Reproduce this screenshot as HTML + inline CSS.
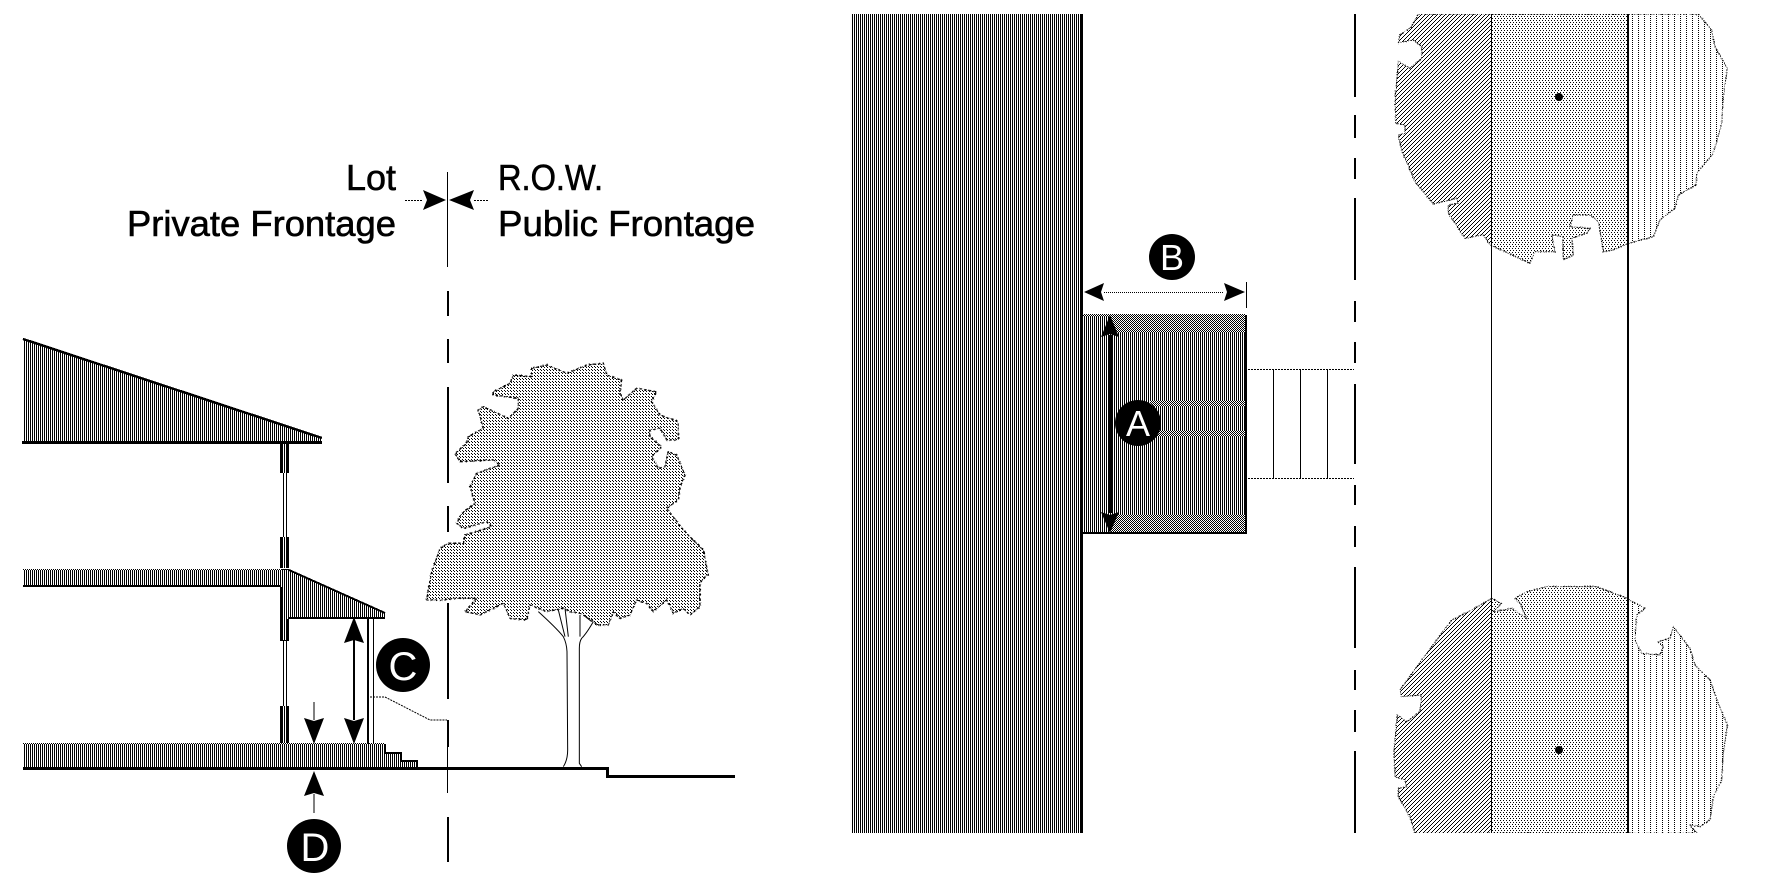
<!DOCTYPE html>
<html><head><meta charset="utf-8"><style>
html,body{margin:0;padding:0;background:#fff;width:1786px;height:883px;overflow:hidden}
svg{display:block}
text{font-family:"Liberation Sans",sans-serif}
</style></head><body>
<svg width="1786" height="883" viewBox="0 0 1786 883" xmlns="http://www.w3.org/2000/svg">
<defs>
<pattern id="h" width="2" height="2" patternUnits="userSpaceOnUse"><rect width="1" height="2" fill="#000"/></pattern>
<pattern id="ck" width="2" height="2" patternUnits="userSpaceOnUse"><rect width="2" height="2" fill="#fff"/><rect width="1" height="1" fill="#000"/><rect x="1" y="1" width="1" height="1" fill="#000"/></pattern>
<pattern id="td" width="3" height="3" patternUnits="userSpaceOnUse"><rect width="1" height="1" fill="#000"/><rect x="1" y="1" width="1" height="1" fill="#000"/></pattern>
<pattern id="dg" width="4" height="4" patternUnits="userSpaceOnUse"><rect x="0" y="3" width="1" height="1" fill="#000"/><rect x="1" y="2" width="1" height="1" fill="#000"/><rect x="2" y="1" width="1" height="1" fill="#000"/><rect x="3" y="0" width="1" height="1" fill="#000"/></pattern>
<pattern id="md" width="3" height="4" patternUnits="userSpaceOnUse"><rect width="1" height="1" fill="#000"/><rect x="1" y="2" width="1" height="1" fill="#000"/></pattern>
<pattern id="vd" width="6" height="2" patternUnits="userSpaceOnUse"><rect width="1" height="1" fill="#000"/></pattern>
<filter id="bw" x="-5%" y="-5%" width="110%" height="110%"><feColorMatrix type="saturate" values="0"/><feComponentTransfer><feFuncR type="discrete" tableValues="0 1"/><feFuncG type="discrete" tableValues="0 1"/><feFuncB type="discrete" tableValues="0 1"/></feComponentTransfer></filter>
<filter id="rough" x="-5%" y="-5%" width="110%" height="110%"><feTurbulence type="fractalNoise" baseFrequency="0.25" numOctaves="3" seed="4"/><feDisplacementMap in="SourceGraphic" scale="7" xChannelSelector="R" yChannelSelector="G"/></filter>
<polygon id="crown" points="335,55 380,45 440,70 500,45 550,40 560,75 605,90 600,130 610,150 650,115 710,125 695,155 720,195 775,215 775,270 740,270 720,235 690,240 690,260 725,290 695,320 715,355 735,350 745,305 770,315 795,375 780,410 775,450 740,475 790,540 850,600 865,675 860,675 840,700 840,770 810,795 790,775 760,790 740,750 700,785 680,760 650,750 630,795 600,805 580,785 565,825 530,825 515,810 480,790 450,785 430,775 380,785 330,765 320,810 270,805 250,760 180,795 135,785 170,745 110,745 65,750 20,750 30,690 35,665 60,595 85,580 130,580 135,555 215,530 200,515 130,535 110,520 125,490 165,460 150,410 170,370 240,345 220,330 120,335 105,310 140,280 145,260 190,235 175,180 190,170 265,205 295,175 295,145 220,135 220,125 270,100 280,75 335,80"/>
<polygon id="rtop" points="85,42 925,42 965,90 975,140 1012,205 1000,290 995,370 970,460 920,520 918,555 865,585 855,625 810,660 790,710 715,730 670,750 640,755 625,665 600,645 550,645 540,680 600,685 590,700 545,715 550,765 520,780 518,710 485,705 495,755 435,755 420,790 345,755 300,735 280,705 225,715 175,640 175,615 205,610 200,595 130,612 75,545 35,450 25,405 45,400 45,375 18,370 15,300 25,185 60,205 95,175 95,140 70,120 25,128 30,105 65,80"/>
<polygon id="rbot" points="305,55 335,70 310,95 365,85 410,115 390,70 375,55 410,35 470,20 620,20 700,50 765,85 740,105 735,180 755,220 810,225 820,200 805,185 840,175 850,140 900,205 915,255 960,300 985,370 1012,435 1000,520 995,600 970,650 960,720 930,740 900,735 920,760 75,760 60,710 25,650 25,625 50,620 45,600 15,590 12,515 22,405 50,425 90,395 95,345 35,350 30,330 95,240 185,120 245,90"/>
<clipPath id="cCrown"><use href="#crown" transform="translate(420,350) scale(.33333)"/></clipPath>
<clipPath id="cTop"><use href="#rtop" transform="translate(1390,0) scale(.33333)"/></clipPath>
<clipPath id="cBot"><use href="#rbot" transform="translate(1390,580) scale(.33333)"/></clipPath>
</defs>
<rect width="1786" height="883" fill="#fff"/>

<!-- left dashed line -->
<g fill="#000" shape-rendering="crispEdges">
<rect x="447" y="172" width="1" height="95"/>
<rect x="447" y="291" width="2" height="25"/><rect x="447" y="339" width="2" height="24"/>
<rect x="447" y="387" width="2" height="96"/><rect x="447" y="506" width="2" height="26"/>
<rect x="447" y="603" width="2" height="96"/><rect x="447" y="720" width="2" height="27"/>
<rect x="447" y="747" width="1" height="46"/><rect x="447" y="817" width="2" height="45"/>
</g>

<!-- labels -->
<g filter="url(#bw)" font-size="36" fill="#000" stroke="#000" stroke-width=".6">
<text x="346" y="190" textLength="50" lengthAdjust="spacingAndGlyphs">Lot</text>
<text x="127" y="236" textLength="269" lengthAdjust="spacingAndGlyphs">Private Frontage</text>
<text x="498" y="190" textLength="105" lengthAdjust="spacingAndGlyphs">R.O.W.</text>
<text x="498" y="236" textLength="257" lengthAdjust="spacingAndGlyphs">Public Frontage</text>
</g>
<g shape-rendering="crispEdges" stroke="#000" stroke-dasharray="2 1" fill="none">
<path d="M405 200.5H423M474 200.5H489"/>
</g>
<path d="M423 190L446 200L423 210L427 200ZM474 190L449 200L474 210L470 200Z" fill="#000"/>

<!-- house -->
<g shape-rendering="crispEdges">
<polygon points="23,339 322,438 322,442 23,442" fill="url(#h)"/>
<path d="M23 339L322 438" stroke="#000" stroke-width="2.5" fill="none"/>
<rect x="22" y="441" width="300" height="3" fill="#000"/>
<rect x="280" y="444" width="9" height="29" fill="url(#h)"/><rect x="280" y="444" width="2" height="29"/><rect x="287" y="444" width="2" height="29"/>
<rect x="283" y="473" width="1" height="64"/><rect x="286" y="473" width="1" height="64"/>
<rect x="280" y="537" width="9" height="31" fill="url(#h)"/><rect x="280" y="537" width="2" height="31"/><rect x="287" y="537" width="2" height="31"/>
<rect x="23" y="569" width="266" height="18" fill="url(#h)"/>
<rect x="23" y="569" width="266" height="2" fill="url(#ck)"/><rect x="23" y="585" width="258" height="2" fill="#000"/>
<polygon points="281,569 289,569 385,613 385,618 289,618 289,640 281,640" fill="url(#h)"/>
<path d="M289 570L385 613" stroke="#000" stroke-width="2" fill="none"/>
<rect x="289" y="617" width="96" height="2" fill="#000"/>
<rect x="280" y="587" width="2" height="53"/><rect x="287" y="619" width="2" height="21"/>
<rect x="280" y="640" width="9" height="1"/>
<rect x="283" y="641" width="1" height="65"/><rect x="286" y="641" width="1" height="65"/>
<rect x="280" y="706" width="9" height="38" fill="url(#h)"/><rect x="280" y="706" width="2" height="38"/><rect x="287" y="706" width="2" height="38"/>
<polygon points="23,744 385,744 385,752 401,752 401,760 418,760 418,769 23,769" fill="url(#h)"/>
<rect x="23" y="743" width="362" height="2" fill="url(#ck)"/>
<path d="M385 744V753H401V761H417V769" fill="none" stroke="#000" stroke-width="2"/>
<rect x="23" y="767" width="585" height="3" fill="#000"/>
<rect x="606" y="767" width="3" height="11" fill="#000"/>
<rect x="606" y="775" width="129" height="3" fill="#000"/>
<rect x="367" y="619" width="2" height="125"/><rect x="373" y="619" width="1" height="125"/>
</g>
<path d="M370 697H385L430 720H447" fill="none" stroke="#000" stroke-width="1" stroke-dasharray="2 1"/>

<!-- C / D arrows -->
<rect x="353" y="640" width="2" height="80" fill="#000"/>
<path d="M354 617L344 643L354 640L364 643ZM354 744L344 718L354 721L364 718Z" fill="#000"/>
<path d="M314 702V720M314 794V813" stroke="#000" stroke-width="1"/>
<path d="M314 744L304 718L314 721L324 718ZM314 771L304 796L314 793L324 796Z" fill="#000"/>
<circle cx="403" cy="665" r="27" fill="#000"/>
<circle cx="314" cy="846" r="27" fill="#000"/>
<text x="403" y="680" font-size="40" fill="#fff" text-anchor="middle">C</text>
<text x="315" y="861" font-size="40" fill="#fff" text-anchor="middle">D</text>

<!-- tree elevation -->
<rect x="420" y="350" width="320" height="300" fill="url(#td)" clip-path="url(#cCrown)" shape-rendering="crispEdges"/>
<use href="#crown" transform="translate(420,350) scale(.33333)" fill="none" stroke="#000" stroke-width="4" stroke-dasharray="9 5" filter="url(#rough)"/>
<g transform="translate(420,540) scale(.33333)" fill="none" stroke="#000" stroke-width="3">
<path d="M355 215Q410 265 430 290Q440 310 441 335L443 630Q443 660 430 680"/>
<path d="M520 245Q500 280 485 295Q478 305 478 325V670L485 680"/>
<path d="M415 210L435 290M435 205L445 290M480 225L480 290M490 225L515 245"/>
</g>

<!-- big building plan -->
<g shape-rendering="crispEdges">
<rect x="851" y="14" width="232" height="819" fill="url(#h)"/>
<rect x="1081" y="14" width="2" height="819" fill="#000"/>
<rect x="1083" y="315" width="163" height="218" fill="url(#h)"/>
<rect x="1110" y="315" width="136" height="18" fill="url(#ck)"/>
<rect x="1110" y="515" width="136" height="18" fill="url(#ck)"/>
<rect x="1150" y="400" width="96" height="7" fill="url(#ck)"/>
<rect x="1150" y="430" width="96" height="7" fill="url(#ck)"/>
<rect x="1083" y="314" width="163" height="2" fill="url(#ck)"/>
<rect x="1083" y="532" width="164" height="2" fill="#000"/>
<rect x="1245" y="315" width="2" height="219" fill="#000"/>
<rect x="1246" y="282" width="1" height="26" fill="#000"/>
<path d="M1248 369.5H1354M1248 478.5H1354" stroke="#000" stroke-dasharray="2 1" fill="none"/>
<rect x="1273" y="369" width="1" height="110" fill="#000"/><rect x="1300" y="369" width="1" height="110" fill="#000"/><rect x="1327" y="369" width="1" height="110" fill="#000"/>
<path d="M1104 292.5H1224" stroke="#000" stroke-dasharray="1 1" fill="none"/>
<rect x="1109" y="335" width="3" height="178" fill="#000"/>
</g>
<path d="M1084 292L1104 283L1101 292L1104 301ZM1245 292L1224 283L1227 292L1224 301Z" fill="#000"/>
<path d="M1110 315L1101 337L1110 334L1119 337ZM1110 533L1101 512L1110 515L1119 512Z" fill="#000"/>
<circle cx="1172" cy="257" r="23" fill="#000"/>
<circle cx="1138" cy="423" r="23" fill="#000"/>
<text x="1172" y="270" font-size="36" fill="#fff" text-anchor="middle">B</text>
<text x="1138" y="436" font-size="36" fill="#fff" text-anchor="middle">A</text>

<!-- right dashed line -->
<g fill="#000" shape-rendering="crispEdges">
<rect x="1354" y="14" width="2" height="83"/><rect x="1354" y="115" width="2" height="23"/><rect x="1354" y="158" width="2" height="21"/>
<rect x="1354" y="198" width="2" height="82"/><rect x="1354" y="301" width="2" height="21"/><rect x="1354" y="342" width="2" height="21"/>
<rect x="1354" y="384" width="2" height="80"/><rect x="1354" y="485" width="2" height="20"/><rect x="1354" y="526" width="2" height="21"/>
<rect x="1354" y="567" width="2" height="81"/><rect x="1354" y="670" width="2" height="20"/><rect x="1354" y="710" width="2" height="22"/>
<rect x="1354" y="751" width="2" height="82"/>
</g>

<!-- plan trees -->
<g clip-path="url(#cTop)" shape-rendering="crispEdges">
<rect x="1390" y="14" width="101" height="250" fill="url(#dg)"/>
<rect x="1491" y="14" width="137" height="250" fill="url(#md)"/>
<rect x="1628" y="14" width="120" height="250" fill="url(#vd)"/>
</g>
<g clip-path="url(#cBot)" shape-rendering="crispEdges">
<rect x="1390" y="580" width="101" height="260" fill="url(#dg)"/>
<rect x="1491" y="580" width="137" height="260" fill="url(#md)"/>
<rect x="1628" y="580" width="120" height="260" fill="url(#vd)"/>
</g>
<use href="#rtop" transform="translate(1390,0) scale(.33333)" fill="none" stroke="#000" stroke-width="3" stroke-dasharray="5 3" filter="url(#rough)"/>
<use href="#rbot" transform="translate(1390,580) scale(.33333)" fill="none" stroke="#000" stroke-width="3" stroke-dasharray="5 3" filter="url(#rough)"/>
<rect x="1390" y="0" width="400" height="14" fill="#fff"/>
<rect x="1390" y="833" width="400" height="50" fill="#fff"/>
<rect x="1491" y="14" width="1" height="819" fill="#000" shape-rendering="crispEdges"/>
<rect x="1627" y="14" width="2" height="819" fill="#000" shape-rendering="crispEdges"/>
<circle cx="1559" cy="97" r="4" fill="#000"/>
<circle cx="1559" cy="750" r="4" fill="#000"/>
</svg>
</body></html>
